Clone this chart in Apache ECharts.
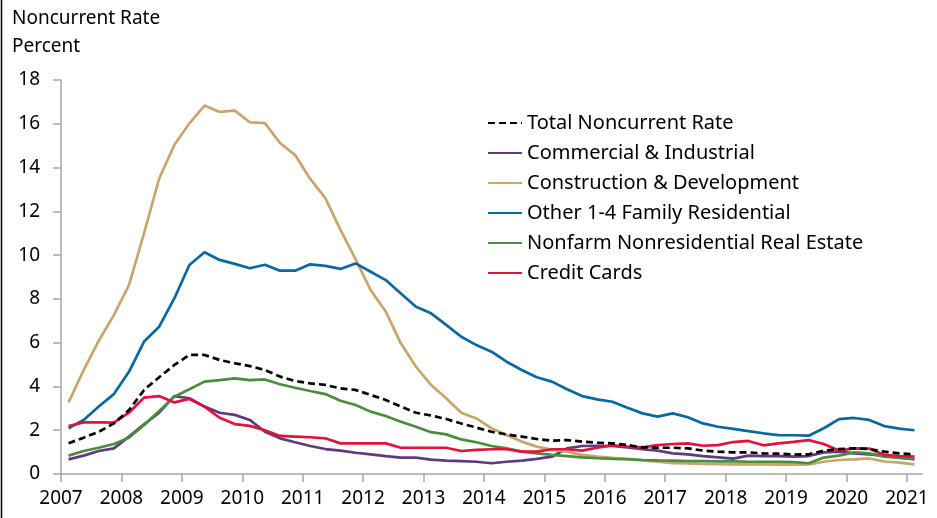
<!DOCTYPE html>
<html>
<head>
<meta charset="utf-8">
<script src="https://cdn.jsdelivr.net/npm/echarts@6/dist/echarts.min.js"></script>
<style>
  html, body { margin: 0; padding: 0; background: #fff; }
  #main { width: 937px; height: 518px; }
</style>
</head>
<body>
<div id="main"></div>
<script>
// quarterly data, 2007 Q1 .. 2021 Q1
const startYear = 2007;
const endYear = 2021;

const totalRate = [1.40, 1.66, 1.93, 2.31, 2.92, 3.84, 4.42, 4.98, 5.44, 5.44, 5.21, 5.06, 4.93, 4.75, 4.45, 4.25, 4.14, 4.07, 3.91, 3.84, 3.61, 3.38, 3.08, 2.80, 2.67, 2.51, 2.31, 2.12, 1.93, 1.81, 1.71, 1.60, 1.52, 1.55, 1.48, 1.43, 1.40, 1.32, 1.22, 1.20, 1.20, 1.17, 1.07, 1.02, 0.99, 0.99, 0.94, 0.93, 0.89, 0.90, 1.07, 1.14, 1.17, 1.14, 1.02, 0.94, 0.90];
const commercial = [0.67, 0.84, 1.05, 1.17, 1.71, 2.27, 2.80, 3.56, 3.46, 3.08, 2.80, 2.70, 2.47, 1.93, 1.63, 1.45, 1.28, 1.14, 1.07, 0.97, 0.90, 0.82, 0.75, 0.75, 0.66, 0.61, 0.59, 0.56, 0.49, 0.56, 0.61, 0.69, 0.79, 1.17, 1.28, 1.29, 1.28, 1.22, 1.13, 1.07, 0.94, 0.90, 0.82, 0.76, 0.70, 0.84, 0.82, 0.82, 0.79, 0.82, 0.99, 1.02, 0.94, 0.90, 0.84, 0.76, 0.67];
const construction = [3.27, 4.75, 6.09, 7.26, 8.63, 11.0, 13.5, 15.03, 16.02, 16.83, 16.54, 16.60, 16.07, 16.03, 15.12, 14.57, 13.48, 12.60, 11.15, 9.82, 8.40, 7.42, 5.97, 4.90, 4.07, 3.46, 2.80, 2.54, 2.09, 1.78, 1.48, 1.25, 1.10, 1.02, 0.87, 0.79, 0.74, 0.68, 0.62, 0.56, 0.50, 0.48, 0.46, 0.45, 0.44, 0.44, 0.44, 0.43, 0.43, 0.44, 0.56, 0.64, 0.67, 0.71, 0.57, 0.52, 0.44];
const familyResidential = [2.09, 2.47, 3.08, 3.65, 4.67, 6.05, 6.73, 8.02, 9.55, 10.13, 9.78, 9.60, 9.40, 9.56, 9.29, 9.29, 9.58, 9.51, 9.37, 9.62, 9.24, 8.86, 8.25, 7.64, 7.34, 6.81, 6.27, 5.89, 5.59, 5.13, 4.75, 4.42, 4.22, 3.87, 3.56, 3.41, 3.30, 3.03, 2.77, 2.62, 2.77, 2.59, 2.31, 2.16, 2.06, 1.96, 1.86, 1.78, 1.77, 1.75, 2.09, 2.51, 2.56, 2.47, 2.19, 2.07, 2.00];
const nonfarm = [0.84, 1.05, 1.20, 1.37, 1.66, 2.24, 2.88, 3.53, 3.87, 4.22, 4.29, 4.37, 4.29, 4.32, 4.10, 3.94, 3.79, 3.65, 3.35, 3.15, 2.85, 2.65, 2.39, 2.16, 1.91, 1.81, 1.58, 1.45, 1.28, 1.17, 1.02, 0.94, 0.87, 0.82, 0.76, 0.72, 0.69, 0.68, 0.64, 0.62, 0.61, 0.59, 0.59, 0.58, 0.58, 0.56, 0.56, 0.55, 0.54, 0.49, 0.75, 0.84, 0.99, 0.94, 0.79, 0.73, 0.69];
const creditCards = [2.19, 2.36, 2.36, 2.35, 2.80, 3.49, 3.56, 3.27, 3.43, 3.08, 2.57, 2.28, 2.20, 2.00, 1.74, 1.71, 1.68, 1.63, 1.40, 1.40, 1.40, 1.40, 1.20, 1.20, 1.20, 1.20, 1.05, 1.10, 1.13, 1.13, 1.02, 1.02, 1.13, 1.13, 1.07, 1.20, 1.31, 1.25, 1.22, 1.32, 1.37, 1.40, 1.29, 1.32, 1.46, 1.51, 1.31, 1.40, 1.47, 1.55, 1.37, 1.07, 1.17, 1.16, 0.87, 0.82, 0.79];

const seriesNames = [
  "Total Noncurrent Rate",
  "Commercial & Industrial",
  "Construction & Development",
  "Other 1-4 Family Residential",
  "Nonfarm Nonresidential Real Estate",
  "Credit Cards",
];
const seriesValues = [totalRate, commercial, construction, familyResidential, nonfarm, creditCards];
const seriesColors = ["#000000", "#5F3A7E", "#C9A46C", "#0A68A0", "#4A8D3C", "#E0123E"];

const fontFamily = "'Noto Sans', 'Liberation Sans', sans-serif";

// each point sits in the middle of its quarter
const toPoints = (values) =>
  values.map((v, i) => [startYear + Math.floor(i / 4) + ((i % 4) + 0.5) / 4, v]);

const chart = echarts.init(document.getElementById("main"), null, { renderer: "canvas" });

chart.setOption({
  animation: false,
  backgroundColor: "#fff",
  textStyle: { fontFamily: fontFamily, color: "#000" },
  title: {
    text: "Noncurrent Rate\nPercent",
    left: 7,
    top: 0,
    textStyle: { fontFamily: fontFamily, fontSize: 19, fontWeight: "normal", color: "#000", lineHeight: 28 },
  },
  legend: {
    orient: "vertical",
    left: 482,
    top: 108,
    itemWidth: 34,
    itemHeight: 10,
    itemGap: 10,
    itemStyle: { opacity: 0 },
    textStyle: { fontFamily: fontFamily, fontSize: 20, color: "#000" },
    data: seriesNames,
  },
  grid: { left: 61, right: 15, top: 80, bottom: 44, containLabel: false },
  xAxis: {
    type: "value",
    min: startYear,
    max: endYear + 0.25,
    interval: 1,
    splitLine: { show: false },
    axisLine: { lineStyle: { color: "#A6A6A6", width: 1.5 } },
    axisTick: { show: true, length: 8, lineStyle: { color: "#A6A6A6", width: 1.5 } },
    axisLabel: {
      color: "#000",
      fontSize: 19,
      fontFamily: fontFamily,
      margin: 15,
      showMaxLabel: false,
      formatter: (v) => (Number.isInteger(v) ? String(v) : ""),
    },
  },
  yAxis: {
    type: "value",
    min: 0,
    max: 18,
    interval: 2,
    splitLine: { show: false },
    axisLine: { show: true, lineStyle: { color: "#A6A6A6", width: 1.5 } },
    axisTick: { show: true, length: 8, lineStyle: { color: "#A6A6A6", width: 1.5 } },
    axisLabel: { color: "#000", fontSize: 19, fontFamily: fontFamily, margin: 21 },
  },
  graphic: [
    {
      type: "line",
      shape: { x1: 1.5, y1: 0, x2: 1.5, y2: 518 },
      style: { stroke: "#000", lineWidth: 1.5 },
    },
  ],
  series: seriesNames.map((name, i) => ({
    name: name,
    type: "line",
    symbol: "none",
    data: toPoints(seriesValues[i]),
    lineStyle: {
      color: seriesColors[i],
      width: 2.7,
      type: i === 0 ? [7, 4] : "solid",
    },
    itemStyle: { color: seriesColors[i] },
    z: i === 0 ? 3 : 2,
  })),
});
</script>
</body>
</html>
